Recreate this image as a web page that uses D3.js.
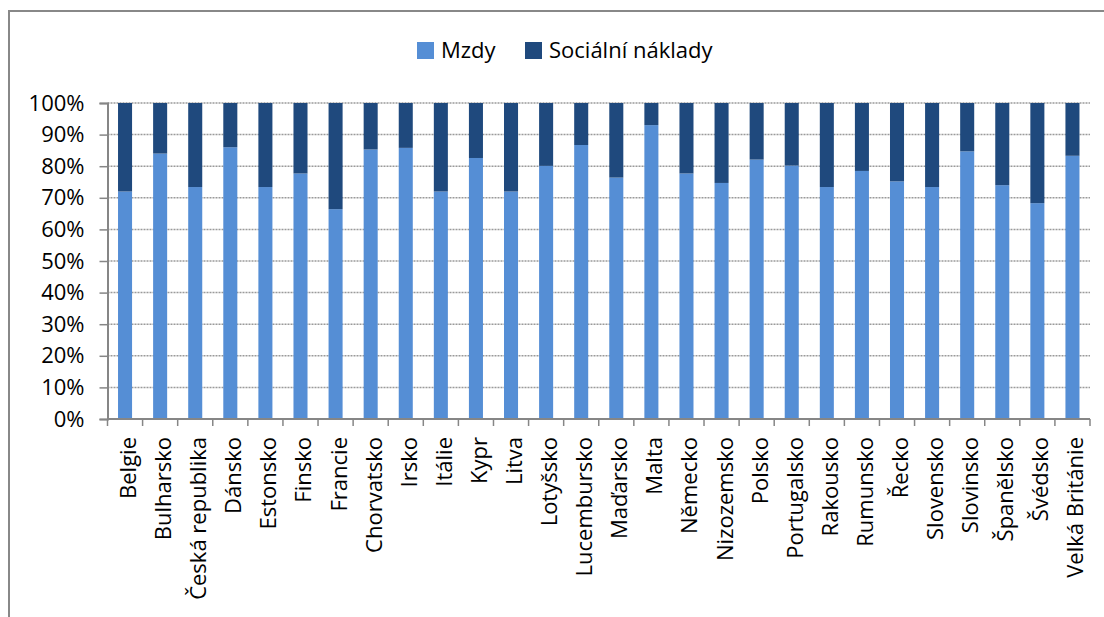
<!DOCTYPE html>
<html>
<head>
<meta charset="utf-8">
<script src="https://cdn.jsdelivr.net/npm/d3@7"></script>
<style>
  body { margin: 0; background: #fff; }
  svg text { font-family: "Open Sans", sans-serif; fill: #000; }
</style>
</head>
<body>
<svg id="chart"></svg>
<script>
const countries = ["Belgie", "Bulharsko", "Česká republika", "Dánsko", "Estonsko", "Finsko", "Francie",
    "Chorvatsko", "Irsko", "Itálie", "Kypr", "Litva", "Lotyšsko", "Lucembursko", "Maďarsko", "Malta",
    "Německo", "Nizozemsko", "Polsko", "Portugalsko", "Rakousko", "Rumunsko", "Řecko", "Slovensko",
    "Slovinsko", "Španělsko", "Švédsko", "Velká Británie"];

// podíl mezd v %, zbytek do 100 jsou sociální náklady
const mzdy = [72.0, 84.0, 73.4, 86.0, 73.4, 77.7, 66.4, 85.3, 85.8, 72.0, 82.6, 72.0, 80.1, 86.7,
    76.4, 93.0, 77.7, 74.7, 82.1, 80.2, 73.4, 78.5, 75.2, 73.4, 84.7, 74.0, 68.3, 83.3];
const socialni = mzdy.map(v => 100 - v);

const seriesNames = ["Mzdy", "Sociální náklady"];
const colors = ["#558ed5", "#1f497d"];
const yTicks = [0, 10, 20, 30, 40, 50, 60, 70, 80, 90, 100];

const width = 1104, height = 617;
const fontSize = "22px";
const svg = d3.select("#chart").attr("width", width).attr("height", height);

// rámeček grafu
svg.append("rect")
    .attr("x", 9).attr("y", 11)
    .attr("width", 1200).attr("height", 700)
    .attr("fill", "none")
    .attr("stroke", "#888").attr("stroke-width", 2);

const plotLeft = 107.5, plotRight = 1090, plotTop = 103, plotBottom = 419;

const x = d3.scaleBand().domain(countries).range([plotLeft, plotRight])
    .paddingInner(0.6).paddingOuter(0.3);
const y = d3.scaleLinear().domain([0, 100]).range([plotBottom, plotTop]);

// mřížka
svg.append("g").selectAll("line")
    .data(yTicks.filter(d => d > 0))
    .join("line")
    .attr("x1", plotLeft).attr("x2", plotRight)
    .attr("y1", d => y(d)).attr("y2", d => y(d))
    .attr("stroke", "#9a9a9a").attr("stroke-width", 1.5)
    .attr("stroke-dasharray", "2,1");

const rows = countries.map((c, i) => ({ country: c, Mzdy: mzdy[i], "Sociální náklady": socialni[i] }));
const stacked = d3.stack().keys(seriesNames)(rows);

svg.append("g").selectAll("g")
    .data(stacked)
    .join("g")
    .attr("fill", (d, i) => colors[i])
    .selectAll("rect")
    .data(d => d)
    .join("rect")
    .attr("x", d => x(d.data.country))
    .attr("width", x.bandwidth())
    .attr("y", d => y(d[1]))
    .attr("height", d => y(d[0]) - y(d[1]));

// osa y
const yAxis = svg.append("g")
    .attr("transform", `translate(${plotLeft},0)`)
    .call(d3.axisLeft(y).tickValues(yTicks).tickFormat(d => d + "%").tickSize(8).tickPadding(15));
yAxis.select(".domain").attr("stroke", "#868686").attr("stroke-width", 2);
yAxis.selectAll(".tick line").attr("stroke", "#868686").attr("stroke-width", 1.5);
yAxis.selectAll("text").style("font-size", fontSize).style("font-family", "'Open Sans', sans-serif");

// osa x
const step = x.step();
const boundaries = d3.range(countries.length + 1).map(i => plotLeft + i * step);
svg.append("line")
    .attr("x1", plotLeft).attr("x2", plotRight)
    .attr("y1", plotBottom).attr("y2", plotBottom)
    .attr("stroke", "#868686").attr("stroke-width", 2);
svg.append("g").selectAll("line")
    .data(boundaries)
    .join("line")
    .attr("x1", d => d).attr("x2", d => d)
    .attr("y1", plotBottom).attr("y2", plotBottom + 7)
    .attr("stroke", "#868686").attr("stroke-width", 1.5);

svg.append("g").selectAll("text")
    .data(countries)
    .join("text")
    .attr("transform", d => `translate(${x(d) + x.bandwidth() / 2 + 11},${plotBottom + 18}) rotate(-90)`)
    .attr("text-anchor", "end")
    .style("font-size", fontSize)
    .text(d => d);

// legenda
const legend = svg.append("g");
const legendItems = [{ name: seriesNames[0], x: 417 }, { name: seriesNames[1], x: 525 }];
legendItems.forEach((it, i) => {
    legend.append("rect")
        .attr("x", it.x).attr("y", 42)
        .attr("width", 17).attr("height", 17)
        .attr("fill", colors[i]);
    legend.append("text")
        .attr("x", it.x + 24).attr("y", 58)
        .style("font-size", fontSize)
        .text(it.name);
});
</script>
</body>
</html>
